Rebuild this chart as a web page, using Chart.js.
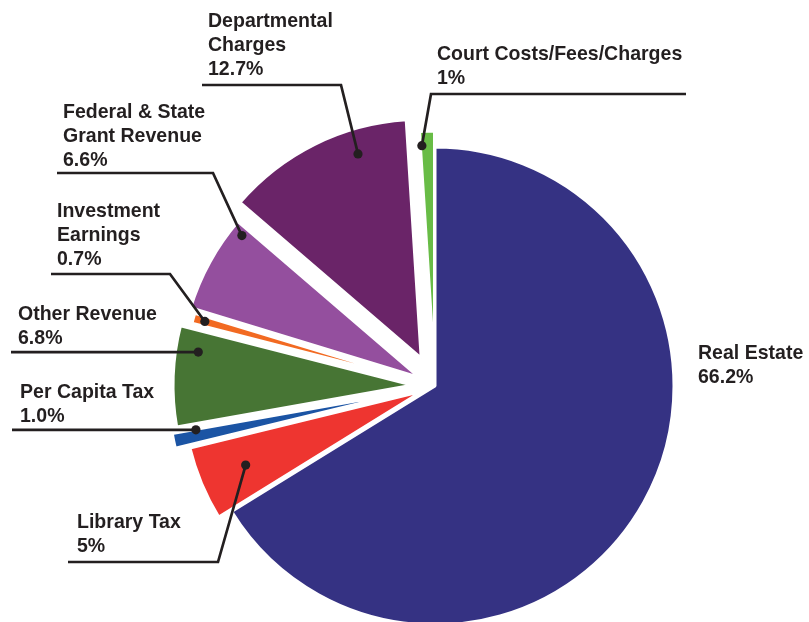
<!DOCTYPE html>
<html>
<head>
<meta charset="utf-8">
<title>Revenue Sources</title>
<script src="https://cdn.jsdelivr.net/npm/chart.js@4.4.1/dist/chart.umd.min.js"></script>
<style>
  html, body { margin: 0; padding: 0; background: #fff; }
  #wrap { width: 809px; height: 622px; }
</style>
</head>
<body>
<div id="wrap"><canvas id="pie" width="809" height="622"></canvas></div>
<script>
// revenue sources, clockwise from 12 o'clock
const sources = ['Real Estate', 'Library Tax', 'Per Capita Tax', 'Other Revenue',
  'Investment Earnings', 'Federal & State Grant Revenue', 'Departmental Charges',
  'Court Costs/Fees/Charges'];
const shares = [66.2, 5, 1.0, 6.8, 0.7, 6.6, 12.7, 1];
const shareText = ['66.2%', '5%', '1.0%', '6.8%', '0.7%', '6.6%', '12.7%', '1%'];
const nameLines = [['Real Estate'], ['Library Tax'], ['Per Capita Tax'], ['Other Revenue'],
  ['Investment', 'Earnings'], ['Federal & State', 'Grant Revenue'], ['Departmental', 'Charges'],
  ['Court Costs/Fees/Charges']];

const colors = ['#353283', '#ee3530', '#1b54a4', '#477534', '#f26a22', '#944f9e', '#6a2468', '#68bc46'];
// how far each slice is pulled out, px
const pullOut = [0, 14, 28, 23, 12, 18, 31, 16];

const R = 239;
const INK = '#231f20';

// callouts: text x, first baseline, rule y (null = level with dot),
// rule left end, elbow x (null = run straight to dot),
// dot position inside the slice (t along the angle, r of the radius)
const callouts = [
  { x: 698, y: 359 },
  { x: 77, y: 528, ruleY: 562, x0: 68, elbow: 218, t: 0.5, r: 0.8 },
  { x: 20, y: 398, ruleY: null, x0: 12, elbow: null, t: 0.8, r: 0.9 },
  { x: 18, y: 320, ruleY: null, x0: 11, elbow: null, t: 0.76, r: 0.905 },
  { x: 57, y: 217, ruleY: 274, x0: 51, elbow: 170, t: 0.5, r: 0.95 },
  { x: 63, y: 118, ruleY: 173, x0: 57, elbow: 213, t: 0.9, r: 0.95 },
  { x: 208, y: 27, ruleY: 85, x0: 202, elbow: 341, t: 0.7, r: 0.895 },
  { x: 437, y: 60, ruleY: 94, x0: 686, elbow: 431, t: 0.2, r: 0.94 }
];

// offset shifts an arc by offset/4 but also grows and trims it; undo that
const keepRadius = {
  id: 'keepRadius',
  afterDatasetUpdate(chart, args) {
    for (const arc of args.meta.data) {
      const shift = (arc.options.offset || 0) / 4;
      const grow = shift * (1 - Math.sin(Math.min(Math.PI, arc.circumference)));
      arc.outerRadius = R - grow;
      const trim = grow / Math.PI / R / 2;
      arc.startAngle -= trim;
      arc.endAngle += trim;
    }
  }
};

function drawText(ctx, str, x, y) {
  ctx.save();
  ctx.translate(x, y);
  ctx.scale(0.93, 1);
  ctx.fillText(str, 0, 0);
  ctx.restore();
}

const calloutPlugin = {
  id: 'callouts',
  afterDraw(chart) {
    const ctx = chart.ctx;
    const arcs = chart.getDatasetMeta(0).data;
    ctx.save();
    ctx.font = 'bold 21px "Liberation Sans", Arial, sans-serif';
    ctx.fillStyle = INK;
    ctx.strokeStyle = INK;
    ctx.lineWidth = 2.7;
    ctx.lineJoin = 'miter';
    callouts.forEach((c, i) => {
      const lines = nameLines[i].concat([shareText[i]]);
      lines.forEach((s, k) => drawText(ctx, s, c.x, c.y + k * 24));
      if (c.t === undefined) return;

      const arc = arcs[i];
      const shift = pullOut[i];
      const mid = (arc.startAngle + arc.endAngle) / 2;
      const cx = arc.x + Math.cos(mid) * shift;
      const cy = arc.y + Math.sin(mid) * shift;
      const a = arc.startAngle + c.t * (arc.endAngle - arc.startAngle);
      const dx = cx + Math.cos(a) * R * c.r;
      const dy = cy + Math.sin(a) * R * c.r;

      ctx.beginPath();
      if (c.elbow === null) {
        ctx.moveTo(c.x0, dy);
        ctx.lineTo(dx, dy);
      } else {
        ctx.moveTo(c.x0, c.ruleY);
        ctx.lineTo(c.elbow, c.ruleY);
        ctx.lineTo(dx, dy);
      }
      ctx.stroke();
      ctx.beginPath();
      ctx.arc(dx, dy, 4.6, 0, Math.PI * 2);
      ctx.fill();
    });
    ctx.restore();
  }
};

new Chart(document.getElementById('pie'), {
  type: 'pie',
  data: {
    labels: sources,
    datasets: [{
      data: shares,
      backgroundColor: colors,
      borderColor: '#ffffff',
      borderWidth: 3,
      offset: pullOut.map(p => p * 4),
      clip: false
    }]
  },
  options: {
    responsive: false,
    animation: false,
    events: [],
    radius: R,
    layout: { padding: { left: 61, top: 150, right: 0, bottom: 0 } },
    plugins: {
      legend: { display: false },
      tooltip: { enabled: false }
    }
  },
  plugins: [keepRadius, calloutPlugin]
});
</script>
</body>
</html>
